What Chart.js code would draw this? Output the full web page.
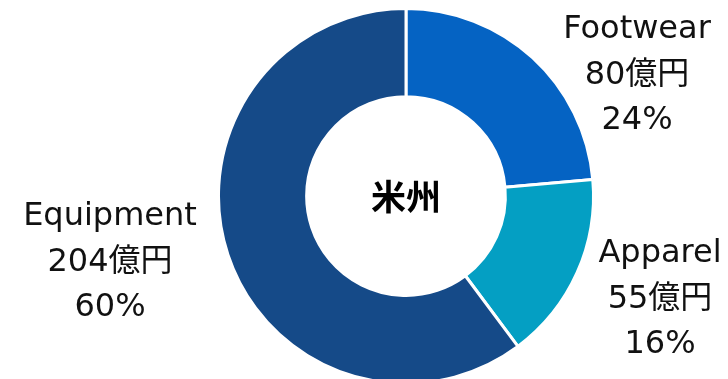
<!DOCTYPE html>
<html lang="ja">
<head>
<meta charset="utf-8">
<title>米州 売上構成</title>
<script src="https://cdn.jsdelivr.net/npm/chart.js@4/dist/chart.umd.min.js"></script>
<style>
  html, body { margin: 0; padding: 0; background: #ffffff; overflow: hidden; }
  #wrap { position: relative; width: 728px; height: 379px; }
</style>
</head>
<body>
<div id="wrap"><canvas id="regionChart" width="728" height="379"></canvas></div>
<script>
const categories = ["Footwear", "Apparel", "Equipment"];
const sales = [80, 55, 204];          // 億円
const shares = [24, 16, 60];          // %
const colors = ["#0563c3", "#049fc3", "#154a88"];
const centerTitle = "米州";

// where each category's label block sits (center of first line)
const labelAnchors = [
  { x: 637, y: 30 },
  { x: 660, y: 254 },
  { x: 110, y: 217 },
];

const labelFont = '32px "DejaVu Sans", "Noto Sans CJK JP", sans-serif';
const lineGap = 45.5;

const sliceLabels = {
  id: "sliceLabels",
  afterDraw(chart) {
    const ctx = chart.ctx;
    ctx.save();
    ctx.fillStyle = "#111111";
    ctx.textAlign = "center";
    ctx.textBaseline = "middle";
    ctx.font = labelFont;
    categories.forEach((name, i) => {
      const a = labelAnchors[i];
      const lines = [name, `${sales[i]}億円`, `${shares[i]}%`];
      lines.forEach((t, j) => ctx.fillText(t, a.x, a.y + j * lineGap));
    });

    const arc = chart.getDatasetMeta(0).data[0];
    ctx.font = 'bold 35px "Noto Sans CJK JP", sans-serif';
    ctx.fillStyle = "#000000";
    ctx.fillText(centerTitle, arc.x, arc.y + 1);
    ctx.restore();
  },
};

new Chart(document.getElementById("regionChart"), {
  type: "doughnut",
  data: {
    labels: categories,
    datasets: [
      {
        data: sales,
        backgroundColor: colors,
        borderColor: "#ffffff",
        borderWidth: 3,
        radius: 187.5,
        clip: false,
      },
    ],
  },
  options: {
    responsive: false,
    animation: false,
    cutout: "53%",
    layout: { padding: { left: 220, right: 136, top: 13, bottom: 0 } },
    plugins: {
      legend: { display: false },
      tooltip: { enabled: false },
    },
    events: [],
  },
  plugins: [sliceLabels],
});
</script>
</body>
</html>
